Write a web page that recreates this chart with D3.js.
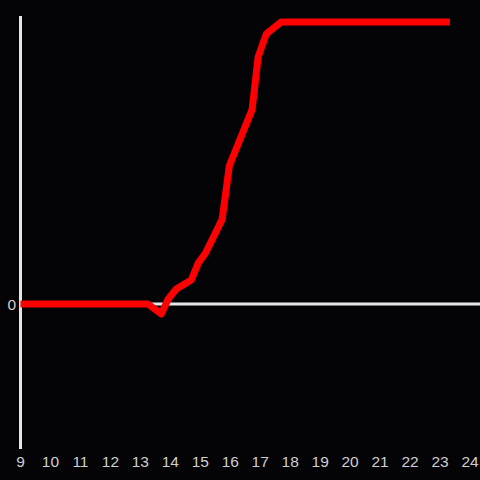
<!DOCTYPE html>
<html>
<head>
<meta charset="utf-8">
<script src="https://cdn.jsdelivr.net/npm/d3@7"></script>
<style>
  html, body { margin: 0; padding: 0; background: #040306; }
  svg { display: block; }
</style>
</head>
<body>
<svg width="480" height="480"></svg>
<script>
// hours of day and value
const hours = [9, 13.25, 13.7, 13.93, 14.2, 14.7, 14.93, 15.17, 15.73, 15.97, 16.73, 16.93, 17.2, 17.7, 23.33]
const values = [0, 0, -3.5, 1.8, 5.3, 8.5, 14.5, 18, 30, 49, 69, 87.6, 95.7, 100, 100]
const xTicks = d3.range(9, 25)
const yTicks = [0]

const svg = d3.select("svg")
const width = +svg.attr("width")
const height = +svg.attr("height")

const x = d3.scaleLinear().domain([9, 24]).range([20.5, 470])
const y = d3.scaleLinear().domain([-51.4, 102.1]).range([449, 16])

svg.append("rect").attr("width", width).attr("height", height).attr("fill", "#040306")

// zero line
svg.append("line")
    .attr("x1", x(9)).attr("x2", width)
    .attr("y1", y(0)).attr("y2", y(0))
    .attr("stroke", "#e6e6e6").attr("stroke-width", 3)

// y axis line
svg.append("line")
    .attr("x1", x(9)).attr("x2", x(9))
    .attr("y1", y.range()[1]).attr("y2", y.range()[0])
    .attr("stroke", "#e6e6e6").attr("stroke-width", 3)

svg.append("g")
    .selectAll("text")
    .data(xTicks)
    .enter().append("text")
    .attr("x", d => x(d))
    .attr("y", 467)
    .attr("text-anchor", "middle")
    .attr("fill", "#cfcfcf")
    .attr("font-family", "Liberation Sans, Arial, sans-serif")
    .attr("font-size", 15.5)
    .text(d => d)

svg.append("g")
    .selectAll("text")
    .data(yTicks)
    .enter().append("text")
    .attr("x", 16)
    .attr("y", d => y(d) + 6)
    .attr("text-anchor", "end")
    .attr("fill", "#cfcfcf")
    .attr("font-family", "Liberation Sans, Arial, sans-serif")
    .attr("font-size", 15.5)
    .text(d => d)

const line = d3.line()
    .x((d, i) => x(hours[i]))
    .y(d => y(d))

svg.append("path")
    .datum(values)
    .attr("d", line)
    .attr("fill", "none")
    .attr("stroke", "#ff0000")
    .attr("stroke-width", 7)
    .attr("stroke-linejoin", "round")
</script>
</body>
</html>
